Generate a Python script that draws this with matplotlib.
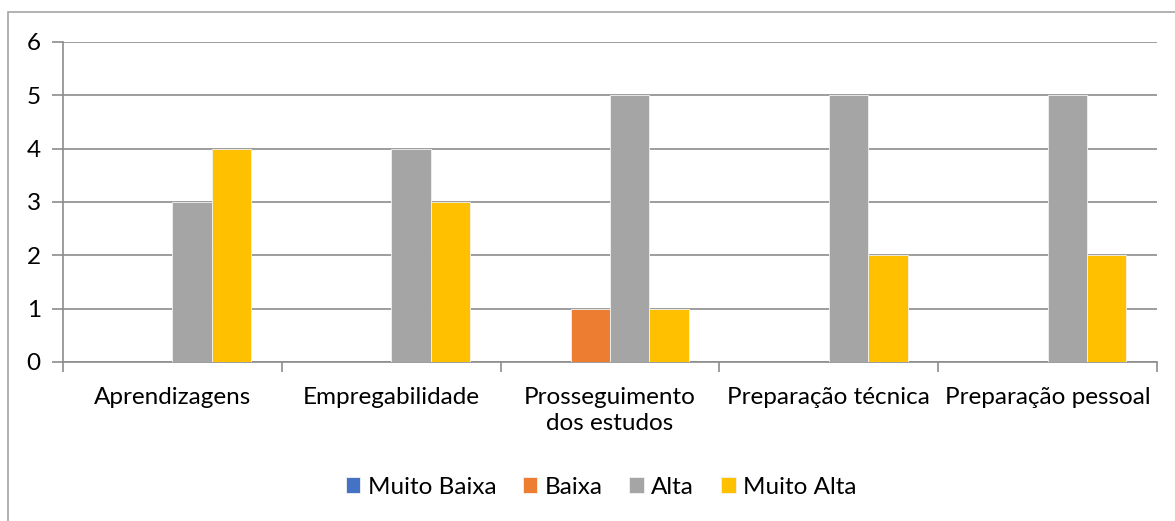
import numpy as np
import matplotlib.pyplot as plt
from matplotlib.patches import Rectangle

categories = ['Aprendizagens', 'Empregabilidade', 'Prosseguimento\ndos estudos',
              'Preparação técnica', 'Preparação pessoal']
series_names = ['Muito Baixa', 'Baixa', 'Alta', 'Muito Alta']
muito_baixa = [0, 0, 0, 0, 0]
baixa = [0, 0, 1, 0, 0]
alta = [3, 4, 5, 5, 5]
muito_alta = [4, 3, 1, 2, 2]
colors = ['#4472C4', '#ED7D31', '#A5A5A5', '#FFC000']

plt.rcParams['font.family'] = ['Lato', 'DejaVu Sans']
fs = 17.5

fig = plt.figure(figsize=(11.75, 5.21), dpi=100)
ax = fig.add_axes([63 / 1175, 1 - 362 / 521, (1157 - 63) / 1175, (362 - 42) / 521])

# chart border like the spreadsheet frame
fig.patches.append(Rectangle((8 / 1175, -0.05), 1.2, 1 - 12 / 521 + 0.05,
                             transform=fig.transFigure, fill=False,
                             edgecolor='#A6A6A6', linewidth=1.2))

x = np.arange(len(categories))
w = 0.18
all_series = [muito_baixa, baixa, alta, muito_alta]
for i, (vals, name, c) in enumerate(zip(all_series, series_names, colors)):
    ax.bar(x + (i - 1.5) * w, vals, width=w, color=c, label=name,
           edgecolor='#F2F2F2', linewidth=0.6, zorder=3)

ax.set_xlim(-0.5, len(categories) - 0.5)
ax.set_ylim(0, 6)
ax.set_yticks(range(0, 7))
ax.yaxis.grid(True, color='#8C8C8C', linewidth=1.2, zorder=0)
ax.set_axisbelow(True)

ax.set_xticks(x)
ax.set_xticklabels(categories, fontsize=fs, linespacing=1.3)
ax.set_xticks(np.arange(-0.5, len(categories)), minor=True)
ax.tick_params(axis='x', which='major', length=0, pad=18)
ax.tick_params(axis='x', which='minor', length=7, color='#8C8C8C', width=1.2)
ax.tick_params(axis='y', length=8, color='#8C8C8C', width=1.2, labelsize=fs, pad=8)

for s in ['top', 'right']:
    ax.spines[s].set_visible(False)
for s in ['left', 'bottom']:
    ax.spines[s].set_color('#8C8C8C')
    ax.spines[s].set_linewidth(1.2)

fig.legend(loc='center', bbox_to_anchor=(601 / 1175, 1 - 487 / 521), ncol=4,
           frameon=False, fontsize=fs, handlelength=0.6, handleheight=0.6,
           handletextpad=0.3, columnspacing=1.1)

fig.savefig('out.png', dpi=100)
